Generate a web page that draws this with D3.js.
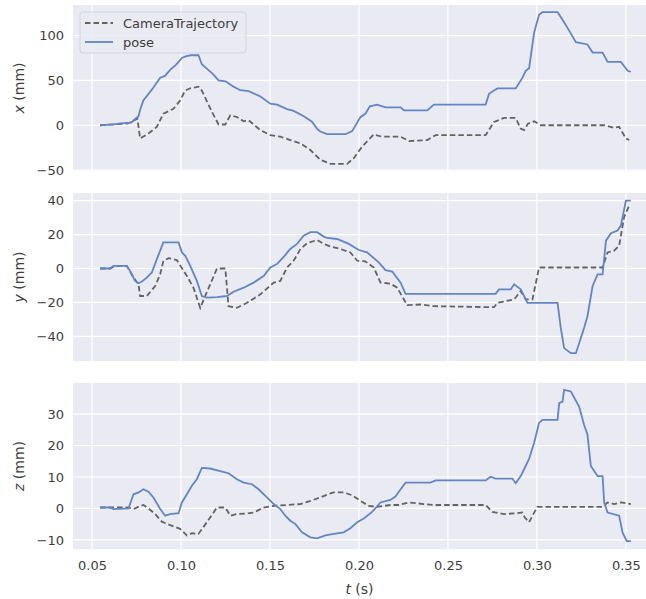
<!DOCTYPE html>
<html>
<head>
<meta charset="utf-8">
<script src="https://cdn.jsdelivr.net/npm/d3@7"></script>
<style>
  body { margin: 0; background: #fff; }
  text { font-family: "DejaVu Sans", sans-serif; }
</style>
</head>
<body>
<svg id="drawing_region"></svg>
<script>
// [t (s), value (mm)]
const xPose = [[0.0545,0],[0.062,1],[0.066,2],[0.072,3],[0.0761,10],[0.077,17],[0.0789,28],[0.081,33],[0.0845,42],[0.0883,53],[0.091,55],[0.094,62],[0.097,67],[0.1005,75],[0.103,77],[0.1055,78],[0.1098,78],[0.1117,68],[0.114,64],[0.118,57],[0.1211,50],[0.125,49],[0.1295,43],[0.1333,39],[0.138,38],[0.1446,32],[0.1502,24],[0.154,23],[0.1596,18],[0.1633,16],[0.169,10],[0.1736,4],[0.1765,-4],[0.1783,-7],[0.1821,-10],[0.1924,-10],[0.1962,-6.6],[0.2008,9],[0.2037,13],[0.2061,21],[0.2102,23],[0.2149,20],[0.2234,20],[0.2253,16.6],[0.2384,16.6],[0.2421,23],[0.2712,23],[0.2731,35],[0.2759,38.6],[0.2778,41],[0.2881,41],[0.2919,53],[0.2937,60.7],[0.2956,63.6],[0.2984,103],[0.3012,123],[0.3031,126],[0.3116,126],[0.3144,117.6],[0.3172,108.5],[0.3219,92.6],[0.3284,90],[0.3313,81],[0.3369,81],[0.3397,70.6],[0.3472,70.6],[0.351,60.7],[0.3528,59.6]];
const xCam = [[0.0545,0],[0.070,2],[0.0755,7.4],[0.077,-14.7],[0.0817,-9.2],[0.0864,-1.8],[0.0901,12.9],[0.0958,18.4],[0.0995,27.6],[0.1023,38.6],[0.1052,41.2],[0.1098,43],[0.1117,38.6],[0.1174,14.8],[0.1211,0.8],[0.1249,0.8],[0.1277,11],[0.1314,9.2],[0.1352,4.4],[0.138,5.5],[0.1446,-5.5],[0.1502,-11],[0.1558,-12.8],[0.1614,-16.5],[0.1671,-20.2],[0.1727,-27.6],[0.1783,-38.6],[0.184,-43],[0.1933,-43],[0.1971,-36.7],[0.2018,-23.8],[0.2083,-10.3],[0.213,-12.8],[0.2234,-12.8],[0.2281,-17.6],[0.2384,-16.5],[0.2431,-11],[0.2712,-11],[0.2759,3.7],[0.2815,8.1],[0.2881,8.1],[0.2909,-3.7],[0.2928,-5.5],[0.295,1.8],[0.2984,4.4],[0.3021,0],[0.3378,0],[0.3434,-2.9],[0.3462,-1.8],[0.35,-14.7],[0.3519,-16.5]];

const yPose = [[0.0545,0],[0.0602,0],[0.0620,1.6],[0.0695,1.6],[0.0714,-1.4],[0.0742,-7.3],[0.0761,-8.7],[0.078,-7.7],[0.0808,-5.3],[0.0836,-2.4],[0.0864,5.5],[0.0901,15.4],[0.0986,15.4],[0.1005,9.5],[0.1024,7.5],[0.1052,1.6],[0.1089,-7.3],[0.1117,-16.2],[0.1145,-17.2],[0.1202,-16.8],[0.1258,-16.2],[0.1295,-13.7],[0.1352,-11.3],[0.1408,-8.3],[0.1464,-4.4],[0.1502,0.6],[0.1539,2.6],[0.1577,6.9],[0.1614,11.5],[0.1652,14.5],[0.1689,19.4],[0.1727,21.4],[0.1765,21.4],[0.1802,18.8],[0.1821,18],[0.1877,17.4],[0.1943,14.5],[0.1999,10.9],[0.2046,9.5],[0.2111,3.6],[0.2149,-1],[0.2187,-1.8],[0.2234,-8.3],[0.2262,-14.9],[0.2768,-14.9],[0.2787,-12.3],[0.2853,-12.3],[0.2872,-9.3],[0.2909,-12.3],[0.2947,-20.2],[0.3116,-20.2],[0.3134,-35],[0.3153,-46.9],[0.3191,-49.9],[0.3219,-49.9],[0.3265,-35],[0.3284,-28.1],[0.3313,-10.3],[0.3341,-3.4],[0.3369,-3.4],[0.3388,16.4],[0.3416,20.8],[0.3453,22.4],[0.3472,25.3],[0.35,40],[0.3528,40]];
const yCam = [[0.0545,0],[0.0602,0],[0.0630,1.6],[0.0695,1.6],[0.0733,-5.3],[0.0761,-9.3],[0.077,-16.2],[0.0808,-16.2],[0.0855,-10.3],[0.0883,-3.4],[0.0901,4.6],[0.093,6.1],[0.0976,5],[0.1033,-4.4],[0.107,-11.3],[0.1108,-23.2],[0.1136,-16.2],[0.1202,0],[0.1249,0],[0.1267,-22.2],[0.1314,-23.2],[0.1371,-20.2],[0.1446,-15.2],[0.1521,-8.3],[0.1558,-7.3],[0.1596,0.6],[0.1633,4.6],[0.1671,11.5],[0.1708,14.9],[0.1765,16.8],[0.1802,14.5],[0.184,12.9],[0.1896,11.5],[0.1952,9.5],[0.199,4.6],[0.2036,4.2],[0.2083,0.6],[0.2121,-8.3],[0.2177,-8.9],[0.2215,-11.3],[0.2271,-21.6],[0.2346,-21.2],[0.2421,-22.2],[0.2759,-22.8],[0.2778,-20.2],[0.2872,-18.2],[0.2909,-13.3],[0.2937,-18.2],[0.2975,-18.2],[0.3012,0.6],[0.3369,0.6],[0.3397,9.5],[0.3434,10.5],[0.3462,13.5],[0.349,30.3],[0.3519,37.2]];

const zPose = [[0.0545,0.3],[0.0602,0.3],[0.0620,-0.2],[0.0705,0],[0.0733,4.5],[0.0761,5.1],[0.0789,6.1],[0.0817,5.3],[0.0845,3.5],[0.0883,-0.2],[0.0911,-2.3],[0.0939,-1.8],[0.0986,-1.5],[0.1005,1.9],[0.1033,4.5],[0.1061,7.2],[0.1089,9.3],[0.1117,12.9],[0.1164,12.7],[0.122,11.9],[0.1267,11.2],[0.1314,9.3],[0.1352,8.2],[0.1399,7.7],[0.1436,6.1],[0.1483,3.5],[0.1521,1.4],[0.1558,-0.2],[0.1586,-2.3],[0.1614,-3.9],[0.1642,-4.9],[0.168,-7.6],[0.1727,-9.2],[0.1765,-9.5],[0.1811,-8.6],[0.1858,-8.1],[0.1914,-7.6],[0.1952,-6.3],[0.199,-4.4],[0.2027,-3.2],[0.2074,-1.1],[0.2121,1.9],[0.2177,2.7],[0.2205,3.8],[0.2234,6.1],[0.2262,8.2],[0.2402,8.2],[0.2431,8.9],[0.2712,8.9],[0.274,10.1],[0.2768,9.5],[0.2862,9.5],[0.2881,8],[0.2909,10.3],[0.2937,13.5],[0.2956,15.8],[0.2984,20.8],[0.3012,27.2],[0.3031,28.2],[0.3116,28.2],[0.3125,33.5],[0.3144,34],[0.3153,37.7],[0.3191,37.2],[0.3237,32.4],[0.3265,26.6],[0.3284,23.5],[0.3303,13.5],[0.3341,10.3],[0.3369,10.3],[0.3378,1.9],[0.3397,-1.3],[0.3462,-2.3],[0.3481,-7.6],[0.3505,-10.4],[0.3528,-10.4]];
const zCam = [[0.0545,0.3],[0.0705,0.3],[0.0733,-0.2],[0.0770,0.8],[0.0789,1.1],[0.0817,0],[0.0855,-1.8],[0.0892,-4.2],[0.0939,-5.3],[0.0995,-6.5],[0.1033,-8.6],[0.1061,-7.9],[0.1098,-8.1],[0.1145,-4.4],[0.1202,0.3],[0.1249,0.3],[0.1277,-2.3],[0.1314,-1.8],[0.1371,-1.6],[0.1408,-1.3],[0.1464,0.3],[0.1521,0.8],[0.1596,1.1],[0.1671,1.4],[0.1727,2.4],[0.1783,3.5],[0.184,4.8],[0.1858,5.1],[0.1914,5.1],[0.1962,4.2],[0.2008,2.4],[0.2055,0.8],[0.2102,0.5],[0.2177,1.1],[0.2224,1.1],[0.2281,1.9],[0.2364,1.4],[0.2421,1.1],[0.2712,1.1],[0.2749,-1.1],[0.2815,-1.8],[0.289,-1.5],[0.2918,-1.3],[0.2931,-2.8],[0.2956,-4.4],[0.2975,-2.3],[0.3003,0.5],[0.3369,0.5],[0.3397,1.9],[0.3434,1.4],[0.3472,1.9],[0.3528,1.4]];

const tTicks = [0.05, 0.10, 0.15, 0.20, 0.25, 0.30, 0.35];
const xTicks = [-50, 0, 50, 100];
const yTicks = [-40, -20, 0, 20, 40];
const zTicks = [-10, 0, 10, 20, 30];
const seriesNames = ['CameraTrajectory', 'pose'];

const width = 646, height = 599;
const left = 73, right = 646;

const panels = [
  { label: 'x', top: 5,   bottom: 171, domain: [-51, 134],   ticks: xTicks, pose: xPose, cam: xCam },
  { label: 'y', top: 193, bottom: 361, domain: [-54.5, 44.5], ticks: yTicks, pose: yPose, cam: yCam },
  { label: 'z', top: 383, bottom: 549, domain: [-12.9, 39.9], ticks: zTicks, pose: zPose, cam: zCam }
];

const poseColor = '#6285c4';
const camColor = '#636363';
const textColor = '#3d3d3d';

const svg = d3.select('#drawing_region')
  .attr('width', width)
  .attr('height', height);

const tscale = d3.scaleLinear()
  .domain([0.0393, 0.3613])
  .range([left, right]);

panels.forEach((p, i) => {
  const yscale = d3.scaleLinear()
    .domain(p.domain)
    .range([p.bottom, p.top]);

  const g = svg.append('g');

  g.append('rect')
    .attr('x', left).attr('y', p.top)
    .attr('width', right - left).attr('height', p.bottom - p.top)
    .attr('fill', '#eaeaf2');

  // grid
  g.selectAll('.vgrid').data(tTicks).join('line')
    .attr('x1', d => tscale(d)).attr('x2', d => tscale(d))
    .attr('y1', p.top).attr('y2', p.bottom)
    .attr('stroke', '#fff').attr('stroke-width', 1.2);
  g.selectAll('.hgrid').data(p.ticks).join('line')
    .attr('x1', left).attr('x2', right)
    .attr('y1', d => yscale(d)).attr('y2', d => yscale(d))
    .attr('stroke', '#fff').attr('stroke-width', 1.2);

  // y axis
  const yaxis = d3.axisLeft(yscale)
    .tickValues(p.ticks)
    .tickSize(0)
    .tickPadding(9)
    .tickFormat(d => d < 0 ? '\u2212' + Math.abs(d) : d);
  const ya = g.append('g')
    .attr('transform', `translate(${left}, 0)`)
    .call(yaxis);
  ya.select('.domain').remove();
  ya.selectAll('text')
    .attr('font-size', 13)
    .attr('fill', textColor)
    .style('font-family', '"DejaVu Sans", sans-serif');

  const ylab = g.append('text')
    .attr('transform', `translate(24, ${(p.top + p.bottom) / 2}) rotate(-90)`)
    .attr('text-anchor', 'middle')
    .attr('font-size', 14)
    .attr('fill', textColor);
  ylab.append('tspan').attr('font-style', 'italic').text(p.label);
  ylab.append('tspan').text(' (mm)');

  // lines
  const line = d3.line()
    .x(d => tscale(d[0]))
    .y(d => yscale(d[1]));

  g.append('path')
    .attr('d', line(p.cam))
    .attr('fill', 'none')
    .attr('stroke', camColor)
    .attr('stroke-width', 1.8)
    .attr('stroke-dasharray', '5.5,3');

  g.append('path')
    .attr('d', line(p.pose))
    .attr('fill', 'none')
    .attr('stroke', poseColor)
    .attr('stroke-width', 1.8);

  if (i === panels.length - 1) {
    const taxis = d3.axisBottom(tscale)
      .tickValues(tTicks)
      .tickSize(0)
      .tickPadding(12)
      .tickFormat(d3.format('.2f'));
    const ta = g.append('g')
      .attr('transform', `translate(0, ${p.bottom})`)
      .call(taxis);
    ta.select('.domain').remove();
    ta.selectAll('text')
      .attr('font-size', 13)
      .attr('fill', textColor)
      .style('font-family', '"DejaVu Sans", sans-serif');

    const tlab = svg.append('text')
      .attr('x', (left + right) / 2)
      .attr('y', 594)
      .attr('text-anchor', 'middle')
      .attr('font-size', 14)
      .attr('fill', textColor);
    tlab.append('tspan').attr('font-style', 'italic').text('t');
    tlab.append('tspan').text(' (s)');
  }

  if (i === 0) {
    const lg = svg.append('g').attr('transform', 'translate(80, 12)');
    lg.append('rect')
      .attr('width', 166).attr('height', 41)
      .attr('rx', 3)
      .attr('fill', '#eaeaf2').attr('fill-opacity', 0.8)
      .attr('stroke', '#d4d4dc').attr('stroke-width', 1);
    const styles = [
      { color: camColor, dash: '5.5,3' },
      { color: poseColor, dash: null }
    ];
    seriesNames.forEach((name, k) => {
      const yy = 11 + k * 19;
      lg.append('line')
        .attr('x1', 5).attr('x2', 33)
        .attr('y1', yy).attr('y2', yy)
        .attr('stroke', styles[k].color)
        .attr('stroke-width', 1.8)
        .attr('stroke-dasharray', styles[k].dash);
      lg.append('text')
        .attr('x', 43).attr('y', yy)
        .attr('dy', '0.35em')
        .attr('font-size', 13)
        .attr('fill', textColor)
        .text(name);
    });
  }
});
</script>
</body>
</html>
